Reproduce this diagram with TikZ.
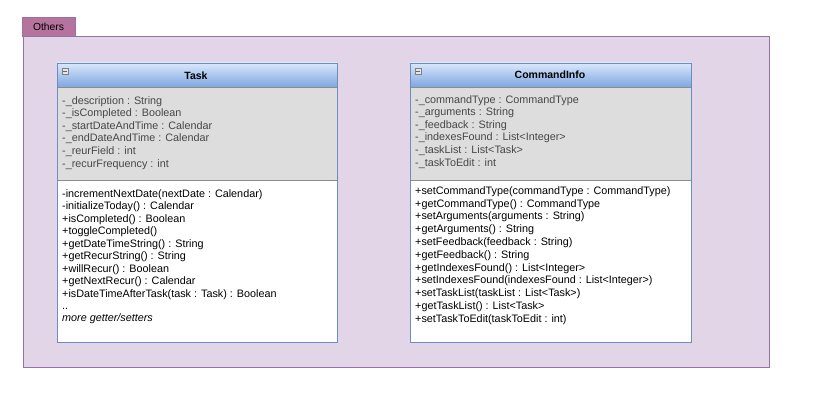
\documentclass[tikz,border=0pt]{standalone}
\usepackage{fontspec}
\setmainfont{Liberation Sans}
\usetikzlibrary{positioning}

\definecolor{pkgfill}{HTML}{E1D5E7}
\definecolor{pkgline}{HTML}{9673A6}
\definecolor{tabfill}{HTML}{B5739D}
\definecolor{headtop}{HTML}{DAE8FC}
\definecolor{headbot}{HTML}{7EA6E0}
\definecolor{boxline}{HTML}{6C8EBF}
\definecolor{attrfill}{HTML}{DDDDDD}

\begin{document}
\begin{tikzpicture}[x=1pt,y=-1pt,
        member/.style={anchor=base west,inner sep=0pt,font=\fontsize{10.8}{12}\selectfont},
        attrtext/.style={member,text=black!72},
        classname/.style={inner sep=0pt,font=\fontsize{10.5}{12}\selectfont\bfseries},
        foldicon/.style={draw=black!50,fill=black!10,line width=0.6pt,minimum size=6pt,inner sep=0pt}]
        \useasboundingbox (0,0) rectangle (821,409);

        % draw package
        \draw[pkgline,fill=pkgfill] (23,36) rectangle (769,367);
        \draw[pkgline,fill=tabfill] (22,17) rectangle (75,36);
        \node[inner sep=0pt,font=\fontsize{10.3}{12}\selectfont] (others) at (48.5,27) {Others};

        % draw class Task
        \fill[white] (57,180) rectangle (337,342);
        \fill[attrfill] (57,87) rectangle (337,180);
        \shade[top color=headtop,bottom color=headbot] (57,63) rectangle (337,87);
        \draw[black!45] (57,87) -- (337,87) (57,180) -- (337,180);
        \draw[boxline] (57,63) rectangle (337,342);
        \node[foldicon] (taskfold) at (65,71) {};
        \draw[black!60] (63.2,71) -- (66.8,71);
        \node[classname] (taskname) at (196,76) {Task};

        % draw attributes and methods of Task
        \foreach \txt [count=\i] in {-\_description : String,-\_isCompleted : Boolean,
                -\_startDateAndTime : Calendar,-\_endDateAndTime : Calendar,
                -\_reurField : int,-\_recurFrequency : int}
            \node[attrtext] (taskattr\i) at (62,{91.5+12.6*\i}) {\txt};
        \foreach \txt [count=\i] in {-incrementNextDate(nextDate : Calendar),-initializeToday() : Calendar,
                +isCompleted() : Boolean,+toggleCompleted(),+getDateTimeString() : String,
                +getRecurString() : String,+willRecur() : Boolean,+getNextRecur() : Calendar,
                +isDateTimeAfterTask(task : Task) : Boolean,..}
            \node[member] (taskop\i) at (62,{184.5+12.5*\i}) {\txt};
        \node[member,font=\fontsize{10.8}{12}\selectfont\itshape] (taskmore) at (62,321) {more getter/setters};

        % draw class CommandInfo
        \fill[white] (410,180) rectangle (691,342);
        \fill[attrfill] (410,87) rectangle (691,180);
        \shade[top color=headtop,bottom color=headbot] (410,63) rectangle (691,87);
        \draw[black!45] (410,87) -- (691,87) (410,180) -- (691,180);
        \draw[boxline] (410,63) rectangle (691,342);
        \node[foldicon] (cmdfold) at (418,71) {};
        \draw[black!60] (416.2,71) -- (419.8,71);
        \node[classname] (cmdname) at (550,75) {CommandInfo};

        % draw attributes and methods of CommandInfo
        \foreach \txt [count=\i] in {-\_commandType : CommandType,-\_arguments : String,
                -\_feedback : String,-\_indexesFound : List<Integer>,-\_taskList : List<Task>,
                -\_taskToEdit : int}
            \node[attrtext] (cmdattr\i) at (415,{90.5+12.6*\i}) {\txt};
        \foreach \txt [count=\i] in {+setCommandType(commandType : CommandType),+getCommandType() : CommandType,
                +setArguments(arguments : String),+getArguments() : String,
                +setFeedback(feedback : String),+getFeedback() : String,
                +getIndexesFound() : List<Integer>,+setIndexesFound(indexesFound : List<Integer>),
                +setTaskList(taskList : List<Task>),+getTaskList() : List<Task>,
                +setTaskToEdit(taskToEdit : int)}
            \node[member] (cmdop\i) at (415,{181.5+12.8*\i}) {\txt};
\end{tikzpicture}
\end{document}
